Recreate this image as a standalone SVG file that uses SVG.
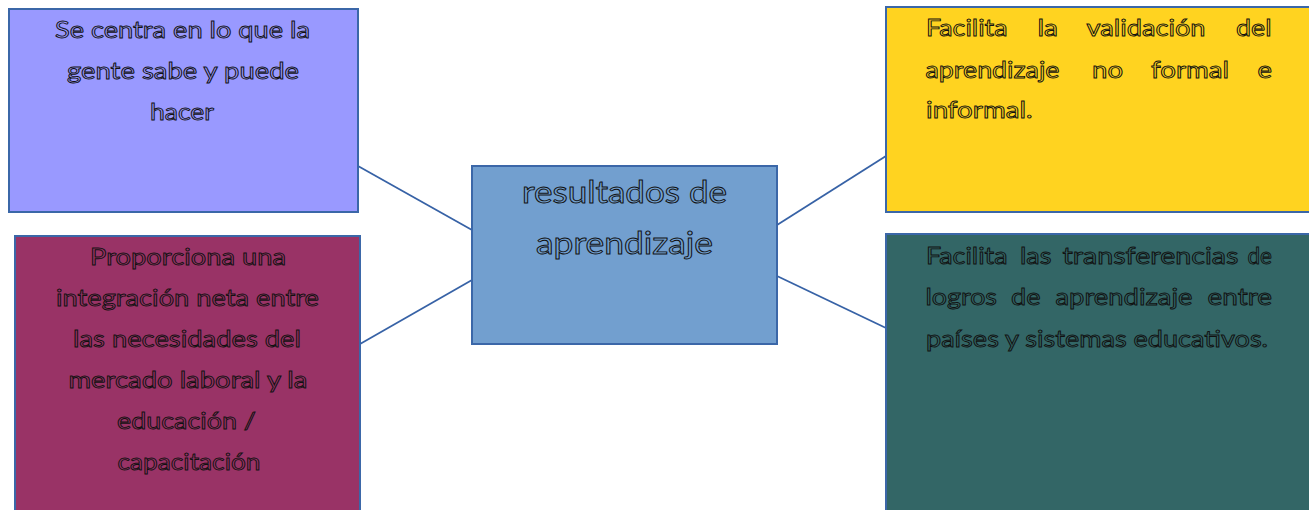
<svg xmlns="http://www.w3.org/2000/svg" width="1309" height="510" viewBox="0 0 1309 510">
<style>
.box{stroke:#3B67A8;stroke-width:2}
.t{font-family:Lato,"Open Sans","Liberation Sans",sans-serif;font-size:23.5px;stroke:#111;stroke-width:0.9;paint-order:fill}
.c{text-anchor:middle}
.big{font-size:30px}
.conn{stroke:#3762A6;stroke-width:1.8;fill:none}
</style>
<rect width="1309" height="510" fill="#fff"/>
<g id="connectors">
<line class="conn" x1="358" y1="166" x2="472" y2="230"/>
<line class="conn" x1="360" y1="344" x2="472" y2="280"/>
<line class="conn" x1="777" y1="225" x2="886" y2="156"/>
<line class="conn" x1="777" y1="276" x2="886" y2="328"/>
</g>
<g id="node-centra">
<rect class="box" x="9" y="9" width="349" height="203" fill="#9999FF"/>
<g class="t c" fill="#9999FF">
<text x="182.5" y="38" textLength="255" lengthAdjust="spacingAndGlyphs">Se centra en lo que la</text>
<text x="183" y="79" textLength="232" lengthAdjust="spacingAndGlyphs">gente sabe y puede</text>
<text x="182" y="120" textLength="64" lengthAdjust="spacingAndGlyphs">hacer</text>
</g>
</g>
<g id="node-resultados">
<rect class="box" x="472" y="166" width="305" height="178" fill="#729FCF"/>
<g class="t c big" fill="#729FCF">
<text x="624.5" y="203" textLength="205" lengthAdjust="spacingAndGlyphs">resultados de</text>
<text x="624.5" y="254" textLength="177" lengthAdjust="spacingAndGlyphs">aprendizaje</text>
</g>
</g>
<g id="node-validacion">
<rect class="box" x="886" y="7" width="430" height="205" fill="#FFD320"/>
<g class="t" fill="#FFD320">
<text x="926" y="36" textLength="81.5" lengthAdjust="spacingAndGlyphs">Facilita</text>
<text x="1037.5" y="36" textLength="20.5" lengthAdjust="spacingAndGlyphs">la</text>
<text x="1086.5" y="36" textLength="119" lengthAdjust="spacingAndGlyphs">validación</text>
<text x="1236" y="36" textLength="35.5" lengthAdjust="spacingAndGlyphs">del</text>
<text x="925.5" y="77.5" textLength="134" lengthAdjust="spacingAndGlyphs">aprendizaje</text>
<text x="1092" y="77.5" textLength="31" lengthAdjust="spacingAndGlyphs">no</text>
<text x="1151" y="77.5" textLength="78" lengthAdjust="spacingAndGlyphs">formal</text>
<text x="1257.5" y="77.5" textLength="14.5" lengthAdjust="spacingAndGlyphs">e</text>
<text x="926" y="118" textLength="106.5" lengthAdjust="spacingAndGlyphs">informal.</text>
</g>
</g>
<g id="node-integracion">
<rect class="box" x="15" y="236" width="345" height="280" fill="#993366"/>
<g class="t c" fill="#993366">
<text x="188" y="265" textLength="196" lengthAdjust="spacingAndGlyphs">Proporciona una</text>
<text x="187.5" y="306" textLength="263" lengthAdjust="spacingAndGlyphs">integración neta entre</text>
<text x="187" y="347" textLength="228" lengthAdjust="spacingAndGlyphs">las necesidades del</text>
<text x="188" y="388" textLength="239" lengthAdjust="spacingAndGlyphs">mercado laboral y la</text>
<text x="186.5" y="429" textLength="139" lengthAdjust="spacingAndGlyphs">educación /</text>
<text x="189" y="470" textLength="143" lengthAdjust="spacingAndGlyphs">capacitación</text>
</g>
</g>
<g id="node-transferencias">
<rect class="box" x="886" y="234" width="430" height="282" fill="#336666"/>
<g class="t" fill="#336666">
<text x="926" y="264" textLength="81.5" lengthAdjust="spacingAndGlyphs">Facilita</text>
<text x="1020" y="264" textLength="31.5" lengthAdjust="spacingAndGlyphs">las</text>
<text x="1062.5" y="264" textLength="176" lengthAdjust="spacingAndGlyphs">transferencias</text>
<text x="1247.5" y="264" textLength="24.5" lengthAdjust="spacingAndGlyphs">de</text>
<text x="925.5" y="305" textLength="71.5" lengthAdjust="spacingAndGlyphs">logros</text>
<text x="1011" y="305" textLength="29.5" lengthAdjust="spacingAndGlyphs">de</text>
<text x="1055.5" y="305" textLength="137" lengthAdjust="spacingAndGlyphs">aprendizaje</text>
<text x="1207.5" y="305" textLength="64.5" lengthAdjust="spacingAndGlyphs">entre</text>
<text x="926" y="346.5" textLength="342" lengthAdjust="spacingAndGlyphs">países y sistemas educativos.</text>
</g>
</g>
</svg>
